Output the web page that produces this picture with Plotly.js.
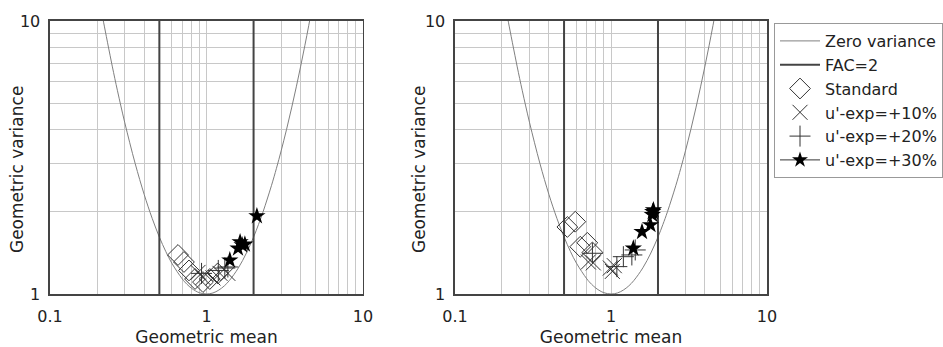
<!DOCTYPE html>
<html><head><meta charset="utf-8">
<script src="https://cdn.plot.ly/plotly-3.0.1.min.js"></script>
<style>html,body{margin:0;padding:0;background:#fff}</style>
</head><body><div id="chart" style="width:943px;height:347px"></div>
<script>
// Zero variance curve (sampled)
const zvX = [0.2,0.215,0.22,0.25,0.27,0.3,0.35,0.4,0.45,0.5,0.55,0.6,0.7,0.75,0.8,0.85,0.9,1,1.1,1.2,1.3,1.4,1.6,1.8,2,2.15,2.3,2.6,2.8,3,3.25,3.5,3.75,4,4.25,4.5,4.7];
const zvY = [13.33,10.62,9.90,6.834,5.553,4.261,3.011,2.315,1.892,1.617,1.430,1.298,1.136,1.086,1.051,1.027,1.011,1,1.009,1.034,1.071,1.120,1.247,1.413,1.617,1.797,2.001,2.492,2.887,3.343,4.012,4.804,5.738,6.834,8.113,9.606,10.97];
const facX = [0.5, 2];
const yRange = [1, 10];

// Left panel
const L_stdX = [0.658,0.718,0.773,0.845,0.95,1.05,1.18];
const L_stdY = [1.39,1.31,1.22,1.135,1.106,1.135,1.19];
const L_p10X = [0.883,0.95,1.10,1.22,1.37];
const L_p10Y = [1.20,1.15,1.145,1.19,1.19];
const L_p20X = [0.93,1.19,1.31,1.37];
const L_p20Y = [1.19,1.22,1.245,1.256];
const L_p30X = [1.41,1.59,1.64,1.69,1.76,2.1];
const L_p30Y = [1.33,1.47,1.55,1.51,1.52,1.93];

// Right panel
const R_stdX = [0.525,0.59,0.635,0.705,0.76];
const R_stdY = [1.76,1.84,1.49,1.54,1.42];
const R_p10X = [0.716,0.77,0.99,1.05,1.02];
const R_p10Y = [1.31,1.30,1.245,1.27,1.21];
const R_p20X = [0.76,1.09,1.2,1.36,1.43];
const R_p20Y = [1.41,1.26,1.37,1.39,1.45];
const R_p30X = [1.39,1.58,1.79,1.84,1.85,1.87];
const R_p30Y = [1.47,1.69,1.79,1.95,2.0,2.03];

const xTickVals = [0.1,0.2,0.3,0.4,0.5,0.6,0.7,0.8,0.9,1,2,3,4,5,6,7,8,9,10];
const xTickText = ['0.1','','','','','','','','','1','','','','','','','','','10'];
const yTickVals = [1,2,3,4,5,6,7,8,9,10];
const yTickText = ['1','','','','','','','','','10'];

const names = ['Zero variance','FAC=2','Standard',"u'-exp=+10%","u'-exp=+20%","u'-exp=+30%"];
const xTitle = 'Geometric mean';
const yTitle = 'Geometric variance';

function panel(xa, ya, std, p10, p20, p30, legend) {
  const t = [];
  t.push({x: zvX, y: zvY, xaxis: xa, yaxis: ya, mode: 'lines', name: names[0], legendgroup: 'zv', showlegend: legend,
    line: {color: '#808080', width: 1, shape: 'spline'}});
  facX.forEach((fx, i) => {
    t.push({x: [fx, fx], y: yRange, xaxis: xa, yaxis: ya, mode: 'lines', name: names[1], legendgroup: 'fac',
      showlegend: legend && i === 0, line: {color: '#444', width: 2}});
  });
  t.push({x: std[0], y: std[1], xaxis: xa, yaxis: ya, mode: 'markers', name: names[2], legendgroup: 'std', showlegend: legend,
    marker: {symbol: 'diamond-open', size: 16, color: '#333', line: {width: 1, color: '#333'}}});
  t.push({x: p10[0], y: p10[1], xaxis: xa, yaxis: ya, mode: 'markers', name: names[3], legendgroup: 'p10', showlegend: legend,
    marker: {symbol: 'x-thin-open', size: 15, color: '#333', line: {width: 1, color: '#333'}}});
  t.push({x: p20[0], y: p20[1], xaxis: xa, yaxis: ya, mode: 'markers', name: names[4], legendgroup: 'p20', showlegend: legend,
    marker: {symbol: 'cross-thin-open', size: 15, color: '#333', line: {width: 1, color: '#333'}}});
  t.push({x: p30[0], y: p30[1], xaxis: xa, yaxis: ya, mode: 'markers', name: names[5], legendgroup: 'p30', showlegend: false,
    marker: {symbol: 'star', size: 13, color: '#000', line: {width: 0}}});
  if (legend) {
    t.push({x: [null], y: [null], xaxis: xa, yaxis: ya, mode: 'lines+markers', name: names[5], legendgroup: 'p30', showlegend: true,
      line: {color: '#333', width: 1}, marker: {symbol: 'star', size: 12, color: '#000'}});
  }
  return t;
}

const data = [].concat(
  panel('x', 'y', [L_stdX, L_stdY], [L_p10X, L_p10Y], [L_p20X, L_p20Y], [L_p30X, L_p30Y], false),
  panel('x2', 'y2', [R_stdX, R_stdY], [R_p10X, R_p10Y], [R_p20X, R_p20Y], [R_p30X, R_p30Y], true)
);

const tickFont = {family: 'DejaVu Sans, sans-serif', size: 16, color: '#222'};
const titleFont = {family: 'DejaVu Sans, sans-serif', size: 17, color: '#222'};
function xaxis(domain, anchor) {
  return {domain: domain, anchor: anchor, type: 'log', range: [-1, 1],
    tickmode: 'array', tickvals: xTickVals, ticktext: xTickText, ticks: '',
    ticklabelstandoff: 7,
    showgrid: true, gridcolor: '#c8c8c8', gridwidth: 1, zeroline: false,
    showline: true, linecolor: '#444', linewidth: 1.5, mirror: true,
    tickfont: tickFont, title: {text: xTitle, font: titleFont, standoff: 6}};
}
function yaxis(domain, anchor) {
  return {domain: domain, anchor: anchor, type: 'log', range: [0, 1],
    tickmode: 'array', tickvals: yTickVals, ticktext: yTickText, ticks: '',
    ticklabelstandoff: 5,
    showgrid: true, gridcolor: '#c8c8c8', gridwidth: 1, zeroline: false,
    showline: true, linecolor: '#444', linewidth: 1.5, mirror: true,
    tickfont: tickFont};
}
const yd = [0.1527, 0.9395];
function yTitleAnn(px) {
  return {text: yTitle, xref: 'paper', yref: 'paper', x: px / 943, y: 0.51, xanchor: 'center', yanchor: 'middle',
    textangle: -90, showarrow: false, font: titleFont};
}
const layout = {
  width: 943, height: 347,
  margin: {l: 0, r: 0, t: 0, b: 0},
  paper_bgcolor: '#fff', plot_bgcolor: '#fff',
  font: tickFont,
  xaxis: xaxis([0.0530, 0.3849], 'y'),
  yaxis: yaxis(yd, 'x'),
  xaxis2: xaxis([0.4825, 0.8134], 'y2'),
  yaxis2: yaxis(yd, 'x2'),
  annotations: [yTitleAnn(17), yTitleAnn(419)],
  showlegend: true,
  legend: {x: 0.8208, y: 0.9337, xanchor: 'left', yanchor: 'top', bgcolor: '#fff',
    bordercolor: '#999', borderwidth: 1, font: {family: 'DejaVu Sans, sans-serif', size: 16, color: '#222'},
    tracegroupgap: 0, itemwidth: 40}
};
Plotly.newPlot('chart', data, layout, {displayModeBar: false, staticPlot: true});
</script></body></html>
